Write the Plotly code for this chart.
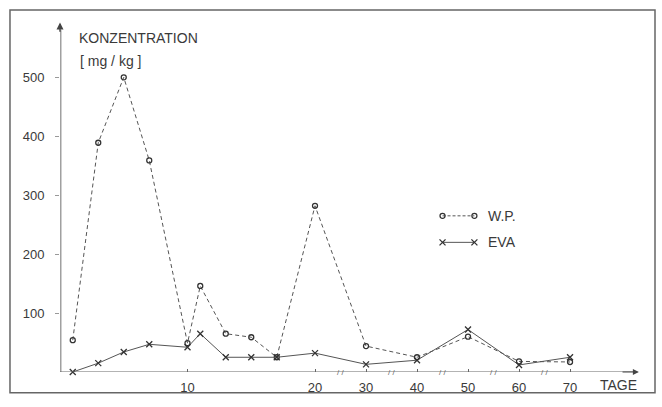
import plotly.graph_objects as go

# ---- data ----
days = [1, 3, 5, 7, 10, 11, 13, 15, 17, 20, 30, 40, 50, 60, 70]
wp_values = [54, 389, 500, 359, 49, 146, 65, 59, 25, 282, 44, 25, 60, 18, 17]
eva_values = [0, 15, 34, 47, 42, 65, 25, 25, 25, 32, 13, 20, 72, 12, 25]
x_tick_days = [10, 20, 30, 40, 50, 60, 70]
x_tick_labels = ["10", "20", "30", "40", "50", "60", "70"]
y_tick_values = [100, 200, 300, 400, 500]
y_tick_labels = ["100", "200", "300", "400", "500"]
break_days = [25, 35, 45, 55, 65]

FONT = "Liberation Sans, Arial, sans-serif"
TXT = "#3a3a3a"


def pos(d):
    """Broken time axis: linear to day 20, compressed (x0.4) afterwards."""
    return d if d <= 20 else 20 + (d - 20) * 0.4


fig = go.Figure()
fig.add_trace(go.Scatter(
    x=[pos(d) for d in days], y=wp_values, mode="lines+markers", name="W.P.",
    line=dict(color="#555", width=1, dash="4px,3px"),
    marker=dict(symbol="circle-open", size=5, color="#333", line=dict(width=1.3)),
    showlegend=False, cliponaxis=False))
fig.add_trace(go.Scatter(
    x=[pos(d) for d in days], y=eva_values, mode="lines+markers", name="EVA",
    line=dict(color="#555", width=1),
    marker=dict(symbol="x-thin-open", size=6, color="#333", line=dict(width=1.3)),
    showlegend=False, cliponaxis=False))

# manual legend (marker at both ends of the sample line)
LEG_X0, LEG_X1, LEG_TX = 30.0, 32.5, 33.4
fig.add_trace(go.Scatter(
    x=[LEG_X0, LEG_X1], y=[265, 265], mode="lines+markers",
    line=dict(color="#555", width=1, dash="3px,2px"),
    marker=dict(symbol="circle-open", size=5, color="#333", line=dict(width=1.3)),
    showlegend=False, hoverinfo="skip"))
fig.add_trace(go.Scatter(
    x=[LEG_X0, LEG_X1], y=[220, 220], mode="lines+markers",
    line=dict(color="#555", width=1),
    marker=dict(symbol="x-thin-open", size=6, color="#333", line=dict(width=1.3)),
    showlegend=False, hoverinfo="skip"))

annotations = [
    dict(x=LEG_TX, y=265, xref="x", yref="y", text="W.P.", showarrow=False,
         xanchor="left", yanchor="middle", font=dict(size=14, color=TXT, family=FONT)),
    dict(x=LEG_TX, y=220, xref="x", yref="y", text="EVA", showarrow=False,
         xanchor="left", yanchor="middle", font=dict(size=14, color=TXT, family=FONT)),
    dict(x=1.3, y=567, xref="x", yref="y", text="KONZENTRATION", showarrow=False,
         xanchor="left", yanchor="middle", font=dict(size=14, color=TXT, family=FONT)),
    dict(x=1.4, y=527, xref="x", yref="y", text="[ mg / kg ]", showarrow=False,
         xanchor="left", yanchor="middle", font=dict(size=14, color=TXT, family=FONT)),
    dict(x=42.2, y=-0.036, xref="x", yref="paper", text="TAGE", showarrow=False,
         xanchor="left", yanchor="middle", font=dict(size=14, color=TXT, family=FONT)),
    # arrowheads
    dict(x=0, y=593, ax=0, ay=575, xref="x", yref="y", axref="x", ayref="y",
         text="", showarrow=True, arrowhead=2, arrowsize=1, arrowwidth=1.4, arrowcolor="#444"),
    dict(x=45.4, y=0, ax=44.0, ay=0, xref="x", yref="y", axref="x", ayref="y",
         text="", showarrow=True, arrowhead=2, arrowsize=1, arrowwidth=1.2, arrowcolor="#444"),
]
for d in break_days:
    annotations.append(dict(x=pos(d), y=0, xref="x", yref="y", text="/ /", showarrow=False,
                            xanchor="center", yanchor="middle",
                            font=dict(size=8, color="#666", family=FONT)))

shapes = [
    # y axis (thick grey)
    dict(type="line", xref="x", yref="y", x0=0, x1=0, y0=0, y1=580,
         line=dict(color="#a0a0a0", width=3)),
    # x axis
    dict(type="line", xref="x", yref="y", x0=0, x1=45.0, y0=0, y1=0,
         line=dict(color="#666", width=1)),
    # frame
    dict(type="rect", xref="paper", yref="paper", x0=-0.0855, x1=1.0171, y0=-0.0590, y1=1.0281,
         line=dict(color="#666", width=1.5)),
]

fig.update_layout(
    width=662, height=407,
    margin=dict(l=60, r=17, t=20, b=31),
    paper_bgcolor="white", plot_bgcolor="white",
    font=dict(family=FONT, size=13, color=TXT),
    xaxis=dict(range=[0, 45.88], tickvals=[pos(d) for d in x_tick_days], ticktext=x_tick_labels,
               showgrid=False, zeroline=False, showline=False, ticks="inside",
               ticklen=3, tickcolor="#666", ticklabelstandoff=6,
               tickfont=dict(size=13, color=TXT, family=FONT)),
    yaxis=dict(range=[0, 597.3], tickvals=y_tick_values, ticktext=y_tick_labels,
               showgrid=False, zeroline=False, showline=False, ticks="outside",
               ticklen=4, tickcolor="#999", ticklabelstandoff=8,
               tickfont=dict(size=13, color=TXT, family=FONT)),
    annotations=annotations, shapes=shapes,
)

fig.write_html("out.html", config={"displayModeBar": False},
               post_script="document.body.style.margin='0';")
